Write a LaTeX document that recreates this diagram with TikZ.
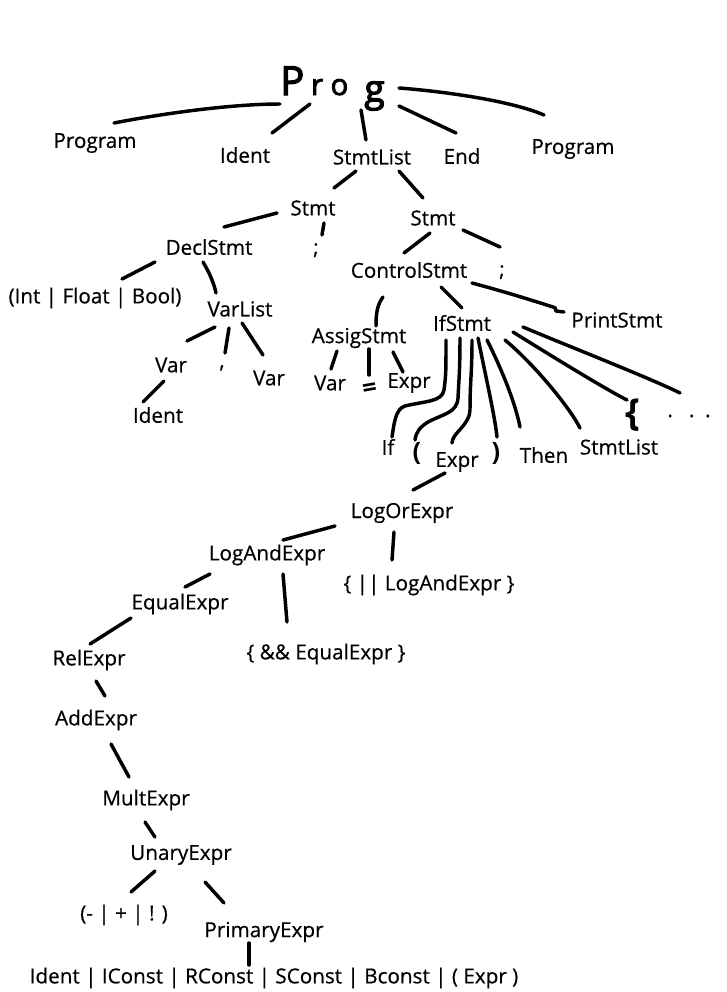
\documentclass[tikz,border=0pt]{standalone}
\usepackage{fontspec}
\setmainfont{Open Sans}
\newfontfamily\lblfont{Open Sans}[FakeBold=0.5]
\newfontfamily\progfont{Open Sans}[FakeBold=3]
\begin{document}
\begin{tikzpicture}[x=0.75pt,y=-0.75pt,
  lbl/.style={inner sep=0pt,font=\lblfont\fontsize{15.5}{18}\selectfont},
  hand/.style={inner sep=0pt,font=\bfseries\fontsize{19}{22}\selectfont},
  bracestyle/.style={inner sep=0pt,font=\bfseries\fontsize{28}{30}\selectfont},
  eqstyle/.style={inner sep=0pt,font=\bfseries\fontsize{19}{22}\selectfont},
  e/.style={line width=2.6pt,line cap=round,line join=round}]
\useasboundingbox (0,0) rectangle (726,992);
\fill[white] (0,0) rectangle (726,992);
% nodes
\node[inner sep=0pt,anchor=base west] (prog) at (280,95) {\progfont{\fontsize{30}{32}\selectfont P}\hspace{5pt}{\fontsize{22}{24}\selectfont r\hspace{5.7pt}o}\hspace{12pt}\raisebox{-5pt}{\fontsize{28}{30}\selectfont g}};
\node[lbl] (progL) at (95,143) {Program};
\node[lbl] (ident1) at (245,155) {Ident};
\node[lbl] (sl1) at (372,157) {StmtList};
\node[lbl] (endk) at (462,156) {End};
\node[lbl] (progR) at (573,149) {Program};
\node[lbl] (stmt1) at (313,208) {Stmt};
\node[lbl] (stmt2) at (433,218) {Stmt};
\node[lbl] (decl) at (209,247) {DeclStmt};
\node[lbl] (semi1) at (316,250) {;};
\node[lbl] (ctrl) at (409,270) {ControlStmt};
\node[lbl] (semi2) at (502,272) {;};
\node[lbl] (intfb) at (95,298) {(Int | Float | Bool)};
\node[lbl] (varlist) at (240,309) {VarList};
\node[lbl] (print) at (617,320) {PrintStmt};
\node[lbl] (assig) at (359,338) {AssigStmt};
\node[lbl] (ifs) at (462,323) {IfStmt};
\node[lbl] (varL) at (171,365) {Var};
\node[lbl] (comma) at (222,368) {,};
\node[lbl] (varR) at (269,378) {Var};
\node[lbl] (varA) at (330,383) {Var};
\node[eqstyle,rotate=10] (eq) at (370,390) {=};
\node[lbl] (exprA) at (409,383) {Expr};
\node[lbl] (ident2) at (158,415) {Ident};
\node[lbl] (ifk) at (388,447) {If};
\node[hand] (lpar) at (417,453) {(};
\node[lbl] (exprIf) at (457,462) {Expr};
\node[hand] (rpar) at (496,453) {)};
\node[lbl] (then) at (544,455) {Then};
\node[lbl] (sl2) at (619,447) {StmtList};
\node[bracestyle] (lbrace) at (633,415) {\{};
\node[lbl] (dots) at (689,416) {.\hspace{12pt}.\hspace{8pt}.};
\node[lbl] (logor) at (402,513) {LogOrExpr};
\node[lbl] (orrest) at (429,585) {\{ || LogAndExpr \}};
\node[lbl] (logand) at (267,555) {LogAndExpr};
\node[lbl] (equal) at (180,604) {EqualExpr};
\node[lbl] (andrest) at (326,654) {\{ \&\& EqualExpr \}};
\node[lbl] (rel) at (89,660) {RelExpr};
\node[lbl] (add) at (96,720) {AddExpr};
\node[lbl] (mult) at (146,800) {MultExpr};
\node[lbl] (unary) at (181,855) {UnaryExpr};
\node[lbl] (unop) at (124,915) {(- | + | ! )};
\node[lbl] (primary) at (264,932) {PrimaryExpr};
\node[lbl] (alts) at (274,978) {Ident | IConst | RConst | SConst | Bconst | ( Expr )};
% connectors
\draw[e] ([shift={(0,9)}]prog.base west) .. controls +(-50,0) and +(46,-9) .. ([shift={(19,-20)}]progL.center);
\draw[e] ([shift={(30,9)}]prog.base west) -- ([shift={(27,-22)}]ident1.center);
\draw[e] ([shift={(81,15)}]prog.base west) -- ([shift={(-6,-17)}]sl1.center);
\draw[e] ([shift={(119,11)}]prog.base west) -- ([shift={(-6,-23)}]endk.center);
\draw[e] ([shift={(119,-7)}]prog.base west) .. controls +(40,3) and +(-35,-15) .. ([shift={(-29,-34)}]progR.center);
\draw[e] ([shift={(-16,14)}]sl1.center) -- ([shift={(21,-20)}]stmt1.center);
\draw[e] ([shift={(27,14)}]sl1.center) -- ([shift={(-10,-20)}]stmt2.center);
\draw[e] ([shift={(-36,5)}]stmt1.center) -- ([shift={(15,-20)}]decl.center);
\draw[e] ([shift={(11,15)}]stmt1.center) -- ([shift={(6,-15)}]semi1.center);
\draw[e] ([shift={(-3,15)}]stmt2.center) -- ([shift={(-5,-17)}]ctrl.center);
\draw[e] ([shift={(30,12)}]stmt2.center) -- ([shift={(-2,-25)}]semi2.center);
\draw[e] ([shift={(-54,15)}]decl.center) -- ([shift={(27,-19)}]intfb.center);
\draw[e] ([shift={(-6,15)}]decl.center) .. controls +(6,10) and +(-2,-10) .. ([shift={(-24,-16)}]varlist.center);
\draw[e] ([shift={(-26,27)}]ctrl.center) .. controls +(-6,8) and +(0,-12) .. ([shift={(17,-12)}]assig.center);
\draw[e] ([shift={(32,17)}]ctrl.center) -- ([shift={(0,-15)}]ifs.center);
\draw[e] ([shift={(63,13)}]ctrl.center) .. controls +(30,8) and +(-25,-8) .. ([shift={(-64,-13)}]print.center) .. controls +(4,1) and +(-2,-3) .. ([shift={(-61,-9)}]print.center) -- ([shift={(-53,-8)}]print.center);
\draw[e] ([shift={(-25,18)}]varlist.center) -- ([shift={(16,-24)}]varL.center);
\draw[e] ([shift={(-11,19)}]varlist.center) -- ([shift={(3,-15)}]comma.center);
\draw[e] ([shift={(2,14)}]varlist.center) -- ([shift={(-6,-23)}]varR.center);
\draw[e] ([shift={(-7,16)}]varL.center) -- ([shift={(-15,-13)}]ident2.center);
\draw[e] ([shift={(-22,13)}]assig.center) -- ([shift={(1,-14)}]varA.center);
\draw[e] ([shift={(10,11)}]assig.center) -- ([shift={(-1,-15)}]eq.center);
\draw[e] ([shift={(34,14)}]assig.center) -- ([shift={(-6,-11)}]exprA.center);
% IfStmt children
\draw[e] ([shift={(-16,17)}]ifs.center) .. controls +(0,30) and +(2,-15) .. ([shift={(56,-57)}]ifk.center) .. controls +(-2,12) and +(20,-5) .. ([shift={(17,-41)}]ifk.center) .. controls +(-10,3) and +(2,-12) .. ([shift={(4,-10)}]ifk.center);
\draw[e] ([shift={(-2,15)}]ifs.center) .. controls +(0,30) and +(1,-20) .. ([shift={(41,-55)}]lpar.center) .. controls +(-1,15) and +(15,-8) .. ([shift={(11,-31)}]lpar.center) .. controls +(-8,5) and +(1,-8) .. ([shift={(-2,-13)}]lpar.center);
\draw[e] ([shift={(10,17)}]ifs.center) .. controls +(0,35) and +(0,-30) .. ([shift={(13,-52)}]exprIf.center) .. controls +(0,15) and +(0,-10) .. ([shift={(-5,-19)}]exprIf.center);
\draw[e] ([shift={(16,15)}]ifs.center) .. controls +(8,40) and +(-2,-20) .. ([shift={(1,-16)}]rpar.center);
\draw[e] ([shift={(25,17)}]ifs.center) .. controls +(15,30) and +(-5,-25) .. ([shift={(-24,-28)}]then.center);
\draw[e] ([shift={(43,17)}]ifs.center) .. controls +(30,25) and +(-10,-20) .. ([shift={(-39,-19)}]sl2.center);
\draw[e] ([shift={(51,9)}]ifs.center) .. controls +(40,25) and +(-20,-10) .. ([shift={(-6,-15)}]lbrace.center);
\draw[e] ([shift={(61,4)}]ifs.center) .. controls +(35,15) and +(-30,-15) .. ([shift={(-9,-23)}]dots.center);
% expression chain
\draw[e] ([shift={(-12,11)}]exprIf.center) -- ([shift={(11,-23)}]logor.center);
\draw[e] ([shift={(-67,13)}]logor.center) -- ([shift={(16,-15)}]logand.center);
\draw[e] ([shift={(-8,19)}]logor.center) -- ([shift={(-37,-25)}]orrest.center);
\draw[e] ([shift={(-57,19)}]logand.center) -- ([shift={(5,-17)}]equal.center);
\draw[e] ([shift={(16,19)}]logand.center) -- ([shift={(-39,-32)}]andrest.center);
\draw[e] ([shift={(-49,14)}]equal.center) -- ([shift={(1,-16)}]rel.center);
\draw[e] ([shift={(7,21)}]rel.center) -- ([shift={(9,-24)}]add.center);
\draw[e] ([shift={(15,24)}]add.center) -- ([shift={(-17,-23)}]mult.center);
\draw[e] ([shift={(-1,22)}]mult.center) -- ([shift={(-26,-18)}]unary.center);
\draw[e] ([shift={(-26,16)}]unary.center) -- ([shift={(7,-23)}]unop.center);
\draw[e] ([shift={(24,27)}]unary.center) -- ([shift={(-40,-29)}]primary.center);
\draw[e] ([shift={(-15,11)}]primary.center) -- ([shift={(-25,-13)}]alts.center);
\end{tikzpicture}
\end{document}
